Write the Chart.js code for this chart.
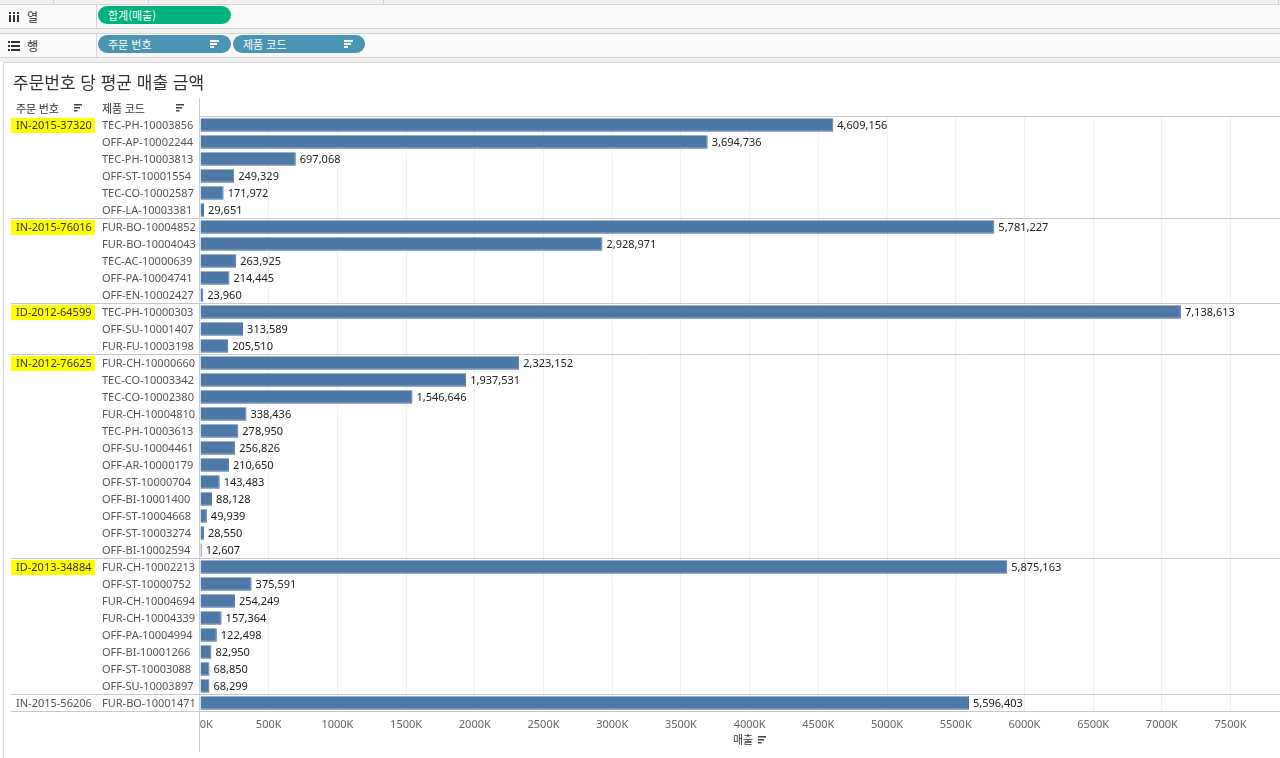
<!DOCTYPE html>
<html lang="ko">
<head>
<meta charset="utf-8">
<script src="https://cdn.jsdelivr.net/npm/chart.js@4.4.1/dist/chart.umd.min.js"></script>
<style>
  html,body{margin:0;padding:0;background:#fff;}
  body{width:1280px;height:758px;overflow:hidden;position:relative;font-family:"Noto Sans CJK KR","Noto Sans",sans-serif;}
  #chart{position:absolute;left:0;top:0;}
  .strip{position:absolute;left:0;top:0;width:1280px;height:4px;background:#f1f1f1;border-bottom:1px solid #d8d8d8;}
  .strip i{position:absolute;top:0;width:1px;height:4px;background:#d0d0d0;}
  .gap{position:absolute;left:0;width:1280px;background:#f1f1f1;}
  .shelf{position:absolute;left:0;width:1280px;height:23px;background:#f9f9f9;border-top:1px solid #d4d4d4;border-bottom:1px solid #d4d4d4;}
  .shelf .cap{position:absolute;left:0;top:0;width:96px;height:23px;border-right:1px solid #d4d4d4;font-size:12px;color:#333;line-height:23px;}
  .shelf .cap span{position:absolute;left:27px;top:0;}
  .pill{position:absolute;top:1px;height:18px;border-radius:9px;color:#fff;font-size:11px;line-height:18px;padding-left:10px;box-sizing:border-box;}
  .pill.g{background:#00b27d;}
  .pill.b{background:#4a95b3;}
  .sorti{position:absolute;right:12px;top:5px;width:9px;height:8px;}
  .sorti b{position:absolute;left:0;height:1.6px;background:#fff;}
  .sheet{position:absolute;left:3px;top:62px;width:1277px;height:696px;border-top:1px solid #d4d4d4;border-left:1px solid #d4d4d4;box-sizing:border-box;pointer-events:none;}
  .title{position:absolute;left:13px;top:69px;font-size:17px;color:#333;white-space:nowrap;}
</style>
</head>
<body>
<canvas id="chart" width="1280" height="758"></canvas>
<div class="strip"><i style="left:53px"></i><i style="left:148px"></i><i style="left:383px"></i><i style="left:1278px"></i></div>
<div class="shelf" style="top:4px">
  <div class="cap"><svg style="position:absolute;left:9px;top:7px" width="10" height="10"><rect x="0" y="0" width="2" height="2" fill="#333"/><rect x="4" y="0" width="2" height="2" fill="#333"/><rect x="8" y="0" width="2" height="2" fill="#333"/><rect x="0" y="3" width="2" height="7" fill="#333"/><rect x="4" y="3" width="2" height="7" fill="#333"/><rect x="8" y="3" width="2" height="7" fill="#333"/></svg><span>열</span></div>
  <div class="pill g" style="left:98px;width:133px;">합계(매출)</div>
</div>
<div class="gap" style="top:29px;height:4px"></div>
<div class="shelf" style="top:33px">
  <div class="cap"><svg style="position:absolute;left:8px;top:7px" width="12" height="10"><rect x="0" y="0" width="2" height="2" fill="#333"/><rect x="3" y="0" width="9" height="2" fill="#333"/><rect x="0" y="4" width="2" height="2" fill="#333"/><rect x="3" y="4" width="9" height="2" fill="#333"/><rect x="0" y="8" width="2" height="2" fill="#333"/><rect x="3" y="8" width="9" height="2" fill="#333"/></svg><span>행</span></div>
  <div class="pill b" style="left:98px;width:133px;">주문 번호<div class="sorti"><b style="top:0;width:9px"></b><b style="top:3px;width:7px"></b><b style="top:6px;width:4px"></b></div></div>
  <div class="pill b" style="left:233px;width:132px;">제품 코드<div class="sorti"><b style="top:0;width:9px"></b><b style="top:3px;width:7px"></b><b style="top:6px;width:4px"></b></div></div>
</div>
<div class="gap" style="top:58px;height:4px"></div>
<div class="sheet"></div>
<div class="title">주문번호 당 평균 매출 금액</div>

<script>
// ---- data ----
const orderIds = ["IN-2015-37320", "IN-2015-76016", "ID-2012-64599", "IN-2012-76625", "ID-2013-34884", "IN-2015-56206"];
const orderSizes = [6, 5, 3, 12, 8, 1];
const orderHighlighted = [true, true, true, true, true, false];
const productCodes = [
  "TEC-PH-10003856", "OFF-AP-10002244", "TEC-PH-10003813", "OFF-ST-10001554", "TEC-CO-10002587", "OFF-LA-10003381",
  "FUR-BO-10004852", "FUR-BO-10004043", "TEC-AC-10000639", "OFF-PA-10004741", "OFF-EN-10002427",
  "TEC-PH-10000303", "OFF-SU-10001407", "FUR-FU-10003198",
  "FUR-CH-10000660", "TEC-CO-10003342", "TEC-CO-10002380", "FUR-CH-10004810", "TEC-PH-10003613", "OFF-SU-10004461",
  "OFF-AR-10000179", "OFF-ST-10000704", "OFF-BI-10001400", "OFF-ST-10004668", "OFF-ST-10003274", "OFF-BI-10002594",
  "FUR-CH-10002213", "OFF-ST-10000752", "FUR-CH-10004694", "FUR-CH-10004339", "OFF-PA-10004994", "OFF-BI-10001266",
  "OFF-ST-10003088", "OFF-SU-10003897",
  "FUR-BO-10001471"
];
const sales = [
  4609156, 3694736, 697068, 249329, 171972, 29651,
  5781227, 2928971, 263925, 214445, 23960,
  7138613, 313589, 205510,
  2323152, 1937531, 1546646, 338436, 278950, 256826, 210650, 143483, 88128, 49939, 28550, 12607,
  5875163, 375591, 254249, 157364, 122498, 82950, 68850, 68299,
  5596403
];
const tickValues = [0, 500000, 1000000, 1500000, 2000000, 2500000, 3000000, 3500000,
  4000000, 4500000, 5000000, 5500000, 6000000, 6500000, 7000000, 7500000];
const axisMax = 7860000;
const axisTitle = "매출";
const headerOrder = "주문 번호";
const headerProduct = "제품 코드";

const LATIN = '"Noto Sans", "DejaVu Sans", sans-serif';
const KOR = '"Noto Sans CJK KR", sans-serif';

function fmt(v){ return v.toLocaleString('en-US'); }

function sortIcon(ctx, x, y, color){
  ctx.fillStyle = color;
  ctx.fillRect(x, y-4, 8, 1.5);
  ctx.fillRect(x, y-1, 6, 1.5);
  ctx.fillRect(x, y+2, 3.5, 1.5);
}

const overlay = {
  id: 'overlay',
  afterDatasetsDraw(chart){
    const ctx = chart.ctx, ys = chart.scales.y, ca = chart.chartArea;
    const half = (ys.getPixelForValue(1) - ys.getPixelForValue(0)) / 2;
    ctx.save();
    // value labels
    const meta = chart.getDatasetMeta(0);
    ctx.font = '11px ' + LATIN;
    ctx.fillStyle = '#222';
    ctx.textBaseline = 'middle';
    ctx.textAlign = 'left';
    meta.data.forEach((bar, i) => {
      ctx.fillText(fmt(sales[i]), bar.x + 4, bar.y + 0.5);
    });
    // product labels
    ctx.fillStyle = '#555';
    productCodes.forEach((p, i) => {
      ctx.fillText(p, 102, ys.getPixelForValue(i) + 0.5);
    });
    // order groups
    let start = 0;
    ctx.strokeStyle = '#c9c9c9';
    ctx.lineWidth = 1;
    orderIds.forEach((id, g) => {
      const yc = ys.getPixelForValue(start);
      if (orderHighlighted[g]) {
        ctx.fillStyle = '#ffff00';
        ctx.fillRect(11, yc - 7, 84, 15);
      }
      ctx.fillStyle = orderHighlighted[g] ? '#333' : '#555';
      ctx.fillText(id, 16, yc + 0.5);
      const yTop = Math.floor(yc - half) + 0.5;
      ctx.beginPath();
      ctx.moveTo(g === 0 ? ca.left : 11, yTop);
      ctx.lineTo(1280, yTop);
      ctx.stroke();
      start += orderSizes[g];
    });
    const yBot = Math.floor(ys.getPixelForValue(start - 1) + half) + 0.5;
    ctx.beginPath(); ctx.moveTo(11, yBot); ctx.lineTo(1280, yBot); ctx.stroke();
    // vertical pane divider
    ctx.strokeStyle = '#cfcfcf';
    ctx.beginPath(); ctx.moveTo(ca.left - 0.5, 98); ctx.lineTo(ca.left - 0.5, 752); ctx.stroke();
    // headers
    ctx.font = '11px ' + KOR;
    ctx.fillStyle = '#333';
    ctx.fillText(headerOrder, 16, 109);
    ctx.fillText(headerProduct, 102, 109);
    sortIcon(ctx, 74, 108, '#444');
    sortIcon(ctx, 176, 108, '#444');
    // axis title
    ctx.textAlign = 'left';
    ctx.fillStyle = '#333';
    ctx.fillText(axisTitle, 733, 740);
    sortIcon(ctx, 758, 740, '#444');
    ctx.restore();
  }
};

new Chart(document.getElementById('chart'), {
  type: 'bar',
  data: {
    labels: productCodes,
    datasets: [{
      data: sales,
      backgroundColor: '#4e79a7',
      borderColor: '#44699a',
      borderWidth: {top: 0, bottom: 1, left: 0, right: 1},
      borderSkipped: false,
      barPercentage: 0.78,
      categoryPercentage: 1.0
    }]
  },
  options: {
    indexAxis: 'y',
    responsive: false,
    animation: false,
    devicePixelRatio: 1,
    layout: { padding: { left: 200, top: 116.5, right: 0, bottom: 0 } },
    plugins: { legend: { display: false }, tooltip: { enabled: false }, title: { display: false } },
    scales: {
      y: { type: 'category', display: false },
      x: {
        type: 'linear',
        min: 0,
        max: axisMax,
        position: 'bottom',
        afterBuildTicks(s){ s.ticks = tickValues.map(v => ({ value: v })); },
        afterFit(s){ s.height = 46.5; s.paddingRight = 0; s.paddingLeft = 0; },
        border: { display: false },
        grid: {
          drawTicks: false,
          color: ctx => ctx.tick && ctx.tick.value === 0 ? 'rgba(0,0,0,0)' : '#f0f0f0',
          lineWidth: 1
        },
        ticks: {
          autoSkip: false,
          maxRotation: 0,
          padding: 7,
          color: '#666',
          font: { size: 11, family: LATIN },
          callback: v => v === 0 ? '\u2007\u20070K' : (v / 1000) + 'K'
        }
      }
    }
  },
  plugins: [overlay]
});
</script>
</body>
</html>
